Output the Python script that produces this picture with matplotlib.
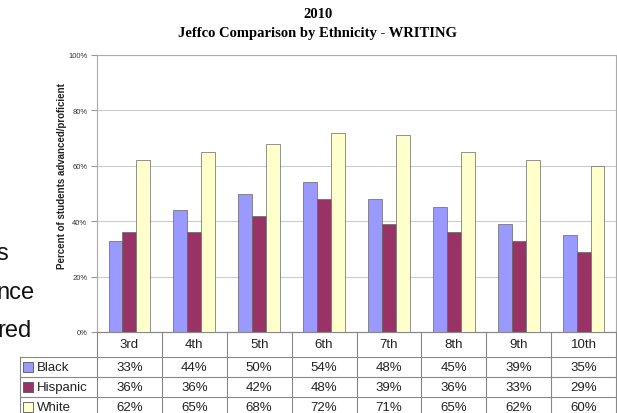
import numpy as np
import matplotlib
matplotlib.use("Agg")
import matplotlib.pyplot as plt
from matplotlib.lines import Line2D
from matplotlib.patches import Rectangle

grades = ["3rd", "4th", "5th", "6th", "7th", "8th", "9th", "10th"]
groups = ["Black", "Hispanic", "White"]
black = [33, 44, 50, 54, 48, 45, 39, 35]
hispanic = [36, 36, 42, 48, 39, 36, 33, 29]
white = [62, 65, 68, 72, 71, 65, 62, 60]
colors = ["#9999FF", "#993366", "#FFFFCC"]
yticks = [0, 20, 40, 60, 80, 100]

W, H = 617, 414
fig = plt.figure(figsize=(W / 100, H / 100), dpi=100)


def px(x):
    return x / W


def py(y):
    return 1 - y / H


left, right, top, bottom = 97, 616, 56, 333
ax = fig.add_axes([px(left), py(bottom), px(right - left), (bottom - top) / H])

x = np.arange(len(grades))
bw = 0.215
for k, vals in enumerate([black, hispanic, white]):
    ax.bar(x + (k - 1) * bw, vals, bw, color=colors[k], edgecolor="#666666",
           linewidth=0.5, zorder=3)

ax.set_xlim(-0.5, len(grades) - 0.5)
ax.set_ylim(0, 100)
ax.set_yticks(yticks)
ax.set_yticklabels([f"{v}%" for v in yticks], fontsize=5.5, color="#333333",
                   family="Liberation Sans")
ax.set_xticks([])
ax.tick_params(axis="y", length=4, color="#999999", width=0.8, pad=3)
ax.grid(axis="y", color="#CCCCCC", linewidth=0.8, zorder=0)
for s in ax.spines.values():
    s.set_color("#AAAAAA")
    s.set_linewidth(0.8)

fig.text(px(62), py(176), "Percent of students advanced/proficient", rotation=90,
         ha="center", va="center", fontsize=7, fontweight="bold",
         family="Liberation Sans", color="#222222")

fig.text(px(318), py(14), "2010", ha="center", va="center", fontsize=10.5,
         fontweight="bold", family="Liberation Serif")
fig.text(px(318), py(34), "Jeffco Comparison by Ethnicity - WRITING", ha="center",
         va="center", fontsize=10.5, fontweight="bold", family="Liberation Serif")

# data table under the axes
colw = (right - left) / len(grades)
row_y = [333, 358, 378, 398, 418]
tab_left = 20
lc = "#888888"


def hline(x0, x1, y):
    fig.add_artist(Line2D([px(x0), px(x1)], [py(y), py(y)], color=lc, lw=0.8))


def vline(xx, y0, y1):
    fig.add_artist(Line2D([px(xx), px(xx)], [py(y0), py(y1)], color=lc, lw=0.8))


hline(left, right, row_y[0])
for y in row_y[1:]:
    hline(tab_left, right, y)
vline(tab_left, row_y[1], row_y[-1])
for i in range(len(grades) + 1):
    vline(left + i * colw, row_y[0], row_y[-1])

for i, g in enumerate(grades):
    fig.text(px(left + (i + 0.5) * colw), py((row_y[0] + row_y[1]) / 2), g,
             ha="center", va="center", fontsize=9.5, family="Liberation Sans",
             color="#222222")

for r, (name, vals) in enumerate(zip(groups, [black, hispanic, white])):
    yc = (row_y[r + 1] + row_y[r + 2]) / 2
    fig.add_artist(Rectangle((px(23), py(yc + 5)), px(10), 10 / H,
                             facecolor=colors[r], edgecolor="#555555", lw=0.6))
    fig.text(px(37), py(yc), name, ha="left", va="center", fontsize=9.5,
             family="Liberation Sans", color="#222222")
    for i, v in enumerate(vals):
        fig.text(px(left + (i + 0.5) * colw), py(yc), f"{v}%", ha="center",
                 va="center", fontsize=9.5, family="Liberation Sans",
                 color="#222222")

# cut-off slide text on the left edge
for txt, xr, yb in [("s", 8, 260), ("nce", 35, 299), ("red", 32, 337)]:
    fig.text(px(xr), py(yb), txt, ha="right", va="baseline", fontsize=17,
             family="Liberation Sans", color="#111111")

fig.savefig("out.png", dpi=100)
